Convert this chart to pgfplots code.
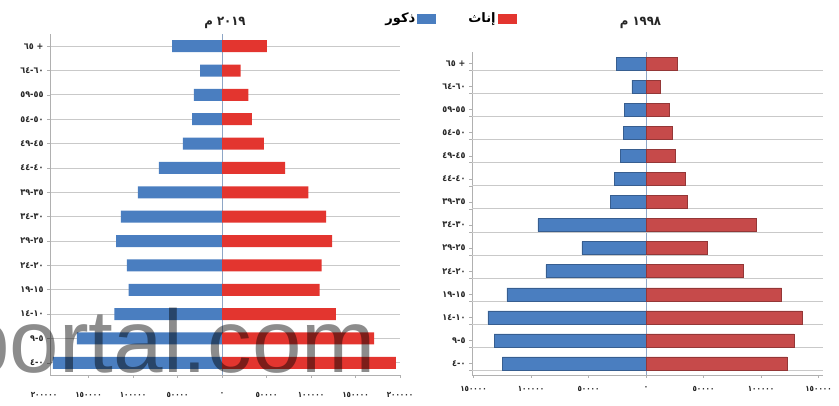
\documentclass[border=0pt]{standalone}
\usepackage{pgfplots}
\pgfplotsset{compat=1.18}
\usepackage{pgfplotstable}
\usepackage{fontspec}
\setmainfont{DejaVu Sans}
\newfontfamily\arabicfont[Script=Arabic]{DejaVu Sans}
\newfontfamily\arabiccond[Script=Arabic]{DejaVu Sans Condensed}
\newfontfamily\wmfont{Liberation Sans}
\TeXXeTstate=1
\definecolor{mblue}{HTML}{4A7EC0}
\definecolor{fredA}{HTML}{E3352F}
\definecolor{fredB}{HTML}{C64A4A}
\definecolor{gridc}{HTML}{C9C9C9}
\definecolor{zeroc}{HTML}{8EA6C6}
\definecolor{axc}{HTML}{B0B0B0}

\pgfplotstableread{
y male female
0 -190000 195500
1 -163000 171000
2 -121000 128000
3 -104800 109600
4 -107000 112000
5 -119000 123600
6 -113500 117000
7 -94400 97000
8 -70800 71000
9 -44000 47000
10 -33700 33500
11 -31500 29500
12 -24700 21000
13 -56000 50500
}\tabA

\pgfplotstableread{
y male female
0 -125000 122700
1 -132000 128800
2 -137500 135700
3 -121000 118000
4 -87000 84400
5 -55700 53000
6 -94000 95700
7 -31300 35700
8 -27800 34000
9 -22600 25000
10 -20000 22600
11 -19000 20000
12 -12200 12200
13 -26000 27000
}\tabB

\newcommand{\R}[1]{\beginR #1\endR}

\pgfplotsset{
 pyr/.style={
  scale only axis, xbar, bar shift=0pt,
  scaled x ticks=false,
  ymin=-0.5, ymax=13.5, ytick={0,...,13},
  yticklabels={\beginR ٠-٤\endR,\beginR ٥-٩\endR,\beginR ١٠-١٤\endR,\beginR ١٥-١٩\endR,\beginR ٢٠-٢٤\endR,\beginR ٢٥-٢٩\endR,\beginR ٣٠-٣٤\endR,\beginR ٣٥-٣٩\endR,\beginR ٤٠-٤٤\endR,\beginR ٤٥-٤٩\endR,\beginR ٥٠-٥٤\endR,\beginR ٥٥-٥٩\endR,\beginR ٦٠-٦٤\endR,\beginR + ٦٥\endR},
  axis x line*=bottom, axis y line*=left,
  axis line style={axc, line width=0.8pt},
  major grid style={gridc, line width=0.9pt},
  tick style={axc, line width=0.6pt},
  major tick length=3pt,
  tick align=outside,
  yticklabel style={font=\arabiccond\bfseries\fontsize{9}{9}\selectfont, text=black!85},
  xticklabel style={font=\arabiccond\bfseries\fontsize{8}{8}\selectfont, text=black!85},
  extra x ticks={0}, extra x tick labels={},
  extra x tick style={grid=major, major grid style={zeroc, line width=0.8pt}, tick style={draw=none}},
  title style={font=\arabiccond\bfseries\fontsize{13}{13}\selectfont, text=black!85},
 }
}

\begin{document}
\begin{tikzpicture}
\path[use as bounding box] (0,0) rectangle (839pt,405pt);

\begin{axis}[pyr,
  at={(50pt,30pt)}, anchor=south west,
  width=350pt, height=341pt,
  xmin=-193260, xmax=200000,
  bar width=12pt,
  ymajorgrids,
  xtick={-150000,-100000,-50000,0,50000,100000,150000,200000},
  xticklabels={\R{١٥٠٠٠٠},\R{١٠٠٠٠٠},\R{٥٠٠٠٠},\R{٠},\R{٥٠٠٠٠},\R{١٠٠٠٠٠},\R{١٥٠٠٠٠},\R{٢٠٠٠٠٠}},
  xticklabel style={yshift=-11pt},
  title={\beginR ٢٠١٩ م\endR}, title style={yshift=-4pt},
  clip=false,
  legend columns=2,
  legend plot pos=right,
  legend cell align=right,
  legend style={draw=none, fill=none, at={(1.143,1.045)}, anchor=center,
    font=\arabicfont\bfseries\fontsize{13}{13}\selectfont,
    /tikz/every even column/.append style={column sep=30pt}},
  legend image code/.code={\fill[#1] (0pt,-5pt) rectangle (19pt,5pt);},
]
\addplot[fill=mblue, draw=none] table[x=male, y=y] {\tabA};
\addlegendentry{\R{ذكور}}
\addplot[fill=fredA, draw=none] table[x=female, y=y] {\tabA};
\addlegendentry{\R{إناث}}
\node[anchor=north, font=\arabiccond\bfseries\fontsize{8}{8}\selectfont, text=black!85, yshift=-14pt] at (axis cs:-200000,-0.5) {\R{٢٠٠٠٠٠}};
\end{axis}

\begin{axis}[pyr,
  at={(472pt,30pt)}, anchor=south west,
  width=351pt, height=323pt,
  xmin=-151300, xmax=153900,
  bar width=13pt,
  extra y ticks={-0.3,0.7,1.7,2.7,3.7,4.7,5.7,6.7,7.7,8.7,9.7,10.7,11.7,12.7},
  extra y tick labels={},
  extra y tick style={grid=major, major grid style={gridc, line width=0.9pt}},
  xtick={-150000,-100000,-50000,0,50000,100000,150000},
  xticklabels={\R{١٥٠٠٠٠},\R{١٠٠٠٠٠},\R{٥٠٠٠٠},\R{٠},\R{٥٠٠٠٠},\R{١٠٠٠٠٠},\R{١٥٠٠٠٠}},
  xticklabel style={yshift=-5pt},
  title={\beginR ١٩٩٨ م\endR}, title style={xshift=-7pt, yshift=14pt},
]
\addplot[fill=mblue, draw=mblue!75!black, line width=0.5pt] table[x=male, y=y] {\tabB};
\addplot[fill=fredB, draw=fredB!75!black, line width=0.5pt] table[x=female, y=y] {\tabB};
\end{axis}

\node[anchor=base east, font=\wmfont\fontsize{89}{89}\selectfont, text=black, text opacity=0.45, inner sep=0pt] at (376pt,33pt) {portal.com};
\end{tikzpicture}
\end{document}
